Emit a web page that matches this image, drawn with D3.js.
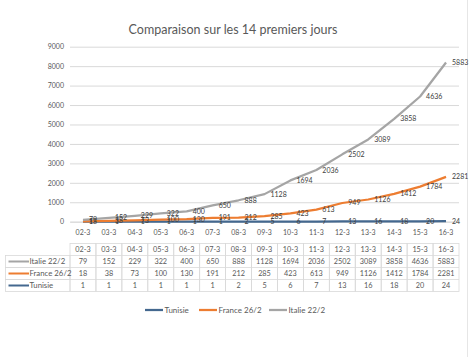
<!DOCTYPE html>
<html><head><meta charset="utf-8">
<script src="https://cdn.jsdelivr.net/npm/d3@7"></script>
<style>
body{margin:0;background:#fff;}
text{font-family:Lato,"Open Sans",sans-serif;}
</style></head>
<body><svg id="c" width="474" height="357"></svg>
<script>
const categories = ["02-3","03-3","04-3","05-3","06-3","07-3","08-3","09-3","10-3","11-3","12-3","13-3","14-3","15-3","16-3"];
const tunisie = [1,1,1,1,1,1,2,5,6,7,13,16,18,20,24];
const france = [18,38,73,100,130,191,212,285,423,613,949,1126,1412,1784,2281];
const italie = [79,152,229,322,400,650,888,1128,1694,2036,2502,3089,3858,4636,5883];
const yTicks = [0,1000,2000,3000,4000,5000,6000,7000,8000,9000];
const seriesNames = ["Tunisie","France 26/2","Italie 22/2"];
const colors = {"Tunisie":"#44688f","France 26/2":"#ed7d31","Italie 22/2":"#a5a5a5"};

const svg = d3.select("#c");
const textCol = "#595959";

// stacked data (stacked line chart)
const rows = categories.map((c,i)=>({cat:c,"Tunisie":tunisie[i],"France 26/2":france[i],"Italie 22/2":italie[i]}));
const stack = d3.stack().keys(seriesNames)(rows);

const x = d3.scaleBand().domain(categories).range([70,459]).padding(0);
const y = d3.scaleLinear().domain([0,9000]).range([221.7,46.7]);
const cx = c => x(c)+x.bandwidth()/2;

// right border
svg.append("line").attr("x1",467.5).attr("x2",467.5).attr("y1",0).attr("y2",357).attr("stroke","#e6e6e6");

// title
svg.append("text").attr("x",233).attr("y",34).attr("text-anchor","middle")
  .attr("font-size",12.5).attr("fill",textCol).text("Comparaison sur les 14 premiers jours");

// gridlines
const yAxis = d3.axisLeft(y).tickValues(yTicks).tickSize(-(459-70)).tickPadding(6).tickFormat(d3.format("d"));
const ga = svg.append("g").attr("transform","translate(70,0)").call(yAxis);
ga.select(".domain").remove();
ga.selectAll(".tick line").attr("stroke","#d9d9d9");
ga.selectAll(".tick text").attr("fill",textCol).attr("font-size",7).attr("font-family","Lato");

// x axis labels
const xAxis = d3.axisBottom(x).tickSize(0).tickPadding(8);
const gx = svg.append("g").attr("transform",`translate(0,${y(0)})`).call(xAxis);
gx.select(".domain").attr("stroke","#d9d9d9");
gx.selectAll(".tick text").attr("fill",textCol).attr("font-size",7).attr("font-family","Lato");

// lines
const line = d3.line().x((d,i)=>cx(categories[i])).y(d=>y(d[1]));
stack.forEach(s=>{
  svg.append("path").datum(s).attr("d",line).attr("fill","none")
    .attr("stroke",colors[s.key]).attr("stroke-width",2.25).attr("stroke-linejoin","round");
});
// data labels
const raw = {"Tunisie":tunisie,"France 26/2":france,"Italie 22/2":italie};
stack.forEach(s=>{
  svg.append("g").selectAll("text").data(s).join("text")
    .attr("x",(d,i)=>cx(categories[i])+6)
    .attr("y",d=>y(d[1])+2.5)
    .attr("font-size",7).attr("fill","#404040")
    .text((d,i)=>raw[s.key][i]);
});

// data table
const tTop = 243.5, rh = 12, labX0 = 5.5, labX1 = 70;
const tableRows = ["Italie 22/2","France 26/2","Tunisie"];
const tg = svg.append("g");
const border = "#d9d9d9";
categories.forEach(c=>{
  tg.append("rect").attr("x",x(c)).attr("y",tTop).attr("width",x.bandwidth()).attr("height",rh*4)
    .attr("fill","none").attr("stroke",border).attr("stroke-width",0.8);
  tg.append("text").attr("x",cx(c)).attr("y",tTop+rh/2+2.6).attr("text-anchor","middle")
    .attr("font-size",7.3).attr("fill",textCol).text(c);
});
tableRows.forEach((name,r)=>{
  const ry = tTop+rh*(r+1);
  tg.append("rect").attr("x",labX0).attr("y",ry).attr("width",labX1-labX0).attr("height",rh)
    .attr("fill","none").attr("stroke",border).attr("stroke-width",0.8);
  tg.append("line").attr("x1",70).attr("x2",459).attr("y1",ry).attr("y2",ry).attr("stroke",border).attr("stroke-width",0.8);
  tg.append("line").attr("x1",8.5).attr("x2",29).attr("y1",ry+rh/2).attr("y2",ry+rh/2)
    .attr("stroke",colors[name]).attr("stroke-width",2);
  tg.append("text").attr("x",29.5).attr("y",ry+rh/2+2.7).attr("font-size",7.8).attr("fill",textCol).text(name);
  raw[name].forEach((v,i)=>{
    tg.append("text").attr("x",cx(categories[i])).attr("y",ry+rh/2+2.6).attr("text-anchor","middle")
      .attr("font-size",7.3).attr("fill",textCol).text(v);
  });
});

// legend
const legend = [{n:"Tunisie",x:145},{n:"France 26/2",x:199},{n:"Italie 22/2",x:269}];
legend.forEach(l=>{
  svg.append("line").attr("x1",l.x).attr("x2",l.x+18).attr("y1",310).attr("y2",310)
    .attr("stroke",colors[l.n]).attr("stroke-width",2.25);
  svg.append("text").attr("x",l.x+19.5).attr("y",312.8).attr("font-size",8).attr("fill",textCol).text(l.n);
});
</script></body></html>
